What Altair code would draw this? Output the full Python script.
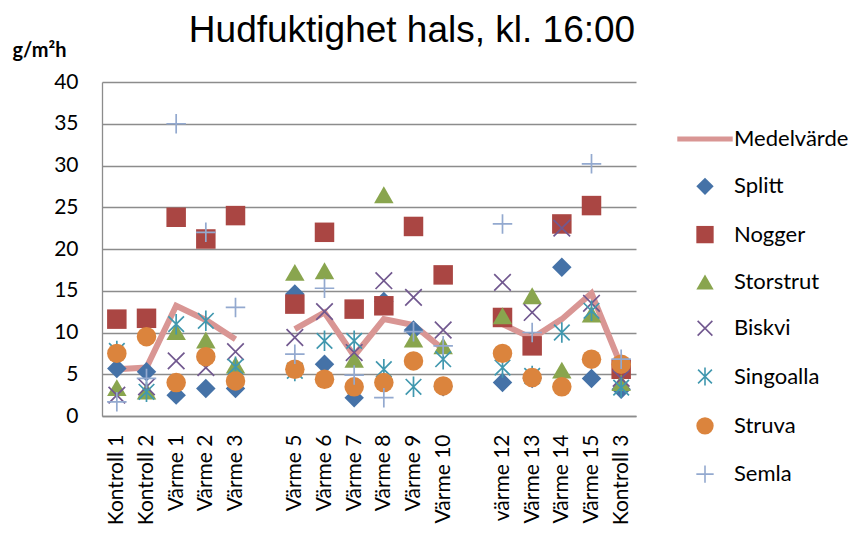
import altair as alt
import pandas as pd

# x categories (gap1/gap2 are the empty slots between groups)
categories = ["Kontroll 1", "Kontroll 2", "Värme 1", "Värme 2", "Värme 3", "gap1",
              "Värme 5", "Värme 6", "Värme 7", "Värme 8", "Värme 9", "Värme 10", "gap2",
              "värme 12", "Värme 13", "Värme 14", "Värme 15", "Kontroll 3"]
segment = [1, 1, 1, 1, 1, 0, 2, 2, 2, 2, 2, 2, 0, 3, 3, 3, 3, 3]

medel = [5.6, 5.8, 13.2, 11.5, 9.2, None, 10.4, 12.4, 7.2, 11.6, 10.9, 8.0, None,
         11.0, 9.3, 11.6, 14.7, 6.0]
splitt = [5.7, 5.3, 2.5, 3.3, 3.3, None, 14.6, 6.2, 2.2, 13.7, 10.3, 3.5, None,
          4.0, 4.5, 17.8, 4.5, 3.2]
nogger = [11.6, 11.7, 23.8, 21.2, 24.0, None, 13.4, 22.0, 12.8, 13.2, 22.7, 16.9, None,
          11.8, 8.4, 23.0, 25.2, 5.6]
storstrut = [3.4, 3.0, 10.1, 9.1, 6.1, None, 17.2, 17.4, 6.8, 26.5, 9.2, 8.4, None,
             12.0, 14.4, 5.5, 12.2, 4.0]
biskvi = [2.5, 3.5, 6.6, 5.8, 7.7, None, 9.4, 12.5, 7.6, 16.2, 14.2, 10.3, None,
          16.0, 12.4, 22.5, 13.5, 4.5]
singoalla = [7.8, 2.9, 11.0, 11.4, 5.9, None, 5.4, 9.0, 9.0, 5.6, 3.5, 6.8, None,
             5.8, 4.8, 10.0, 12.6, 3.4]
struva = [7.5, 9.5, 4.0, 7.1, 4.2, None, 5.6, 4.4, 3.5, 4.0, 6.6, 3.6, None,
          7.5, 4.6, 3.5, 6.8, 6.2]
semla = [1.7, 4.5, 35.0, 22.0, 13.0, None, 7.4, 15.3, 4.9, 2.2, 10.1, 8.4, None,
         23.0, 10.0, None, 30.2, 6.8]

series = ["Medelvärde", "Splitt", "Nogger", "Storstrut", "Biskvi", "Singoalla", "Struva", "Semla"]
point_values = [splitt, nogger, storstrut, biskvi, singoalla, struva, semla]

fills = ["#D99694", "#4572A7", "#AA4643", "#89A54E", "transparent", "transparent",
         "#DB843D", "transparent"]
strokes = ["transparent", "transparent", "transparent", "transparent", "#71588F",
           "#4198AF", "transparent", "#93A9CF"]
shapes = [
    "M-3.2,-0.28L3.2,-0.28L3.2,0.28L-3.2,0.28Z",   # line swatch for the mean
    "diamond",
    "square",
    "triangle-up",
    "M-0.85,-0.85L0.85,0.85M-0.85,0.85L0.85,-0.85",          # x
    "M-0.8,-0.8L0.8,0.8M-0.8,0.8L0.8,-0.8M0,-1.05L0,1.05",    # asterisk
    "circle",
    "M-1,0L1,0M0,-1L0,1",                                    # plus
]

rows = []
for name, vals in zip(series[1:], point_values):
    for cat, v in zip(categories, vals):
        if v is not None:
            rows.append({"kat": cat, "serie": name, "varde": v})
points_df = pd.DataFrame(rows)

mean_df = pd.DataFrame({"kat": categories, "varde": medel, "seg": segment})
mean_df = mean_df[mean_df["varde"].notna()]

FONT = "Lato"

x_enc = alt.X(
    "kat:N",
    scale=alt.Scale(domain=categories, paddingInner=0, paddingOuter=0),
    axis=alt.Axis(
        title=None, labelAngle=-90, labelAlign="right", labelBaseline="middle",
        ticks=False, labelPadding=18, labelFont=FONT, labelFontSize=21,
        labelColor="#000000", domainColor="#8C8C8C", domainWidth=1.3,
        labelExpr="indexof(datum.value, 'gap') == 0 ? '' : datum.value",
    ),
)
y_scale = alt.Scale(domain=[0, 40], nice=False)
y_axis = alt.Axis(
    values=list(range(0, 41, 5)), ticks=False, grid=True, gridColor="#8C8C8C",
    gridWidth=1.3, domainColor="#8C8C8C", domainWidth=1.3, labelPadding=24,
    labelFont=FONT, labelFontSize=21, labelColor="#000000",
    title="g/m²h", titleAngle=0, titleX=-90, titleY=-32, titleAlign="left",
    titleBaseline="middle", titleFont=FONT, titleFontSize=20, titleFontWeight="bold",
    titleColor="#000000",
)

line = alt.Chart(mean_df).mark_line(
    color="#D99694", strokeWidth=6, strokeCap="butt", strokeJoin="miter"
).encode(
    x=x_enc,
    y=alt.Y("varde:Q", scale=y_scale, axis=y_axis),
    detail="seg:N",
)

legend = alt.Legend(
    title=None, orient="none", legendX=592, legendY=46, labelFont=FONT,
    labelFontSize=22, labelColor="#000000", symbolSize=300, symbolStrokeWidth=1.6,
    labelOffset=18, rowPadding=24.3, symbolOpacity=1,
)

pts = alt.Chart(points_df).mark_point(size=380, opacity=1, strokeWidth=1.7).encode(
    x=x_enc,
    y=alt.Y("varde:Q", scale=y_scale, axis=y_axis),
    fill=alt.Fill("serie:N", scale=alt.Scale(domain=series, range=fills), legend=legend),
    stroke=alt.Stroke("serie:N", scale=alt.Scale(domain=series, range=strokes), legend=legend),
    shape=alt.Shape("serie:N", scale=alt.Scale(domain=series, range=shapes), legend=legend),
)

chart = (line + pts).properties(
    width=534,
    height=334,
    title=alt.TitleParams(
        "Hudfuktighet hals, kl. 16:00", font="Liberation Sans", fontSize=37,
        fontWeight="normal", color="#000000", anchor="middle", dx=43, offset=0, dy=10,
    ),
    autosize=alt.AutoSizeParams(type="none"),
    padding={"left": 94, "top": 74, "right": 224, "bottom": 118},
).configure_view(stroke=None)

chart.save("out.html", embed_options={"renderer": "svg", "actions": False})
